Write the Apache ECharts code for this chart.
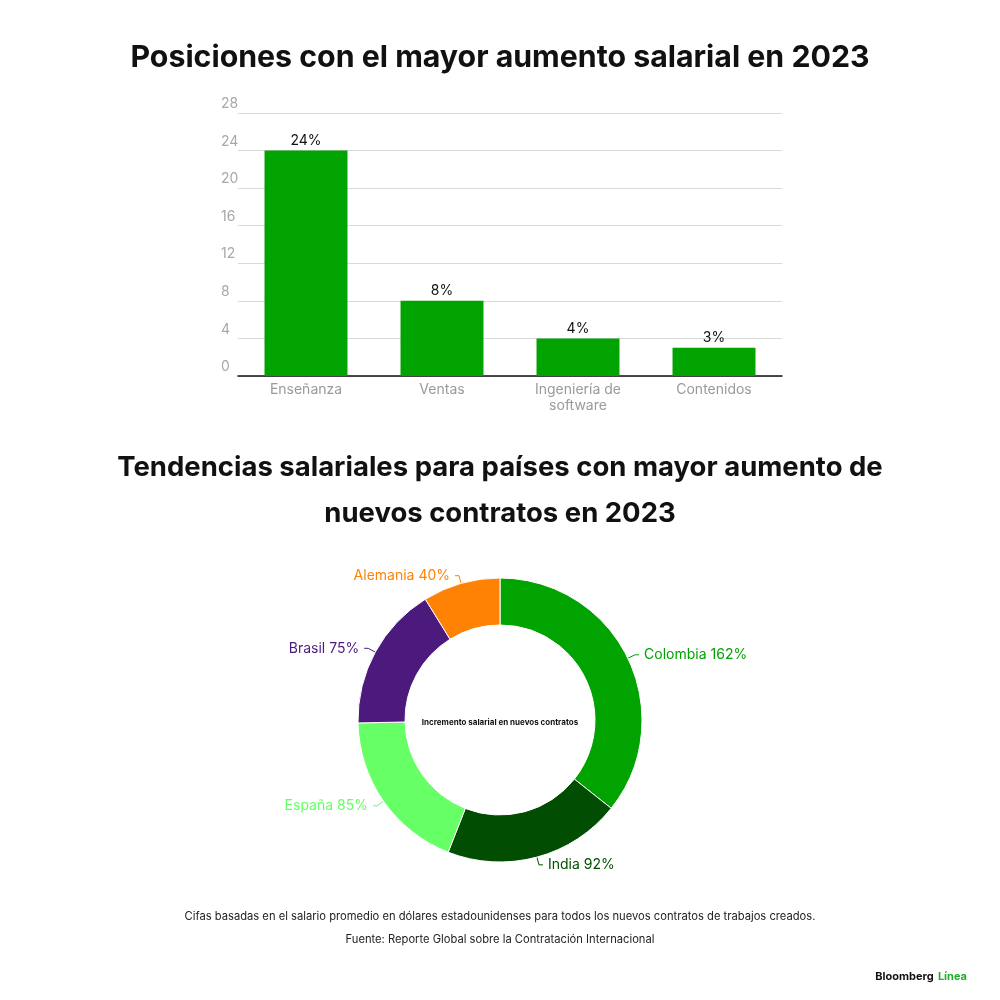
<!doctype html>
<html>
	<head>
		<meta charset="utf-8">
		<title>Aumento salarial 2023</title>
		<style>
			html, body { margin: 0; padding: 0; background: #fff; }
			#main { width: 1000px; height: 1000px; }
		</style>
	</head>
	<body>
		<div id="main"></div>
		<script src="https://cdn.jsdelivr.net/npm/echarts@6/dist/echarts.min.js"></script>
		<script>
			// datos de las posiciones
			var positions = ['Enseñanza', 'Ventas', 'Ingeniería de\nsoftware', 'Contenidos'];
			var raises = [24, 8, 4, 3];
			var yTicks = [0, 4, 8, 12, 16, 20, 24, 28];

			// datos de los paises
			var countries = ['Colombia', 'India', 'España', 'Brasil', 'Alemania'];
			var hires = [162, 92, 85, 75, 40];
			var countryColors = ['#00a300', '#014d01', '#66ff66', '#4b1a7c', '#ff8205'];

			var font = 'Inter, "Liberation Sans", sans-serif';
			var myChart = echarts.init(document.getElementById('main'));

			var pieData = [];
			for (var i = 0; i < countries.length; i++) {
				pieData.push({
					name: countries[i],
					value: hires[i],
					itemStyle: { color: countryColors[i] },
					label: { color: countryColors[i] }
				});
			}

			function heading(txt, top, size, weight, color) {
				return {
					text: txt,
					left: 'center',
					top: top,
					textStyle: { fontSize: size, fontWeight: weight, color: color, fontFamily: font }
				};
			}

			var option = {
				backgroundColor: '#fff',
				animation: false,
				textStyle: { fontFamily: font },
				title: [
					heading('Posiciones con el mayor aumento salarial en 2023', 38, 30.3, 'bold', '#111'),
					heading('Tendencias salariales para países con mayor aumento de', 449, 27.5, 'bold', '#111'),
					heading('nuevos contratos en 2023', 495, 27.5, 'bold', '#111'),
					heading('Incremento salarial en nuevos contratos', 714, 8, 'bold', '#111'),
					heading('Cifas basadas en el salario promedio en dólares estadounidenses para todos los nuevos contratos de trabajos creados.', 906, 11.2, 'normal', '#222'),
					heading('Fuente: Reporte Global sobre la Contratación Internacional', 929, 11.2, 'normal', '#222'),
					{
						text: '{a|Bloomberg} {b|Línea}',
						right: 28,
						top: 963,
						textStyle: {
							rich: {
								a: { fontSize: 11, fontWeight: 'bold', color: '#111', fontFamily: font },
								b: { fontSize: 11, fontWeight: 'bold', color: '#1fae2a', fontFamily: font }
							}
						}
					}
				],
				grid: {
					left: 238,
					right: 218,
					top: 113,
					height: 263
				},
				xAxis: {
					type: 'category',
					data: positions,
					axisLine: { lineStyle: { color: '#111', width: 1.5 } },
					axisTick: { show: false },
					axisLabel: {
						color: '#9a9a9a',
						fontSize: 14,
						lineHeight: 16,
						margin: 6,
						interval: 0,
						fontFamily: font
					}
				},
				yAxis: {
					type: 'value',
					min: 0,
					max: 28,
					interval: 4,
					axisLine: { show: false },
					axisTick: { show: false },
					splitLine: { lineStyle: { color: '#d9d9d9', width: 1 } },
					axisLabel: {
						color: '#a8a8a8',
						fontSize: 14,
						align: 'left',
						verticalAlign: 'bottom',
						padding: [0, 0, 2, 0],
						margin: 17,
						fontFamily: font,
						formatter: function (v) {
							return yTicks.indexOf(v) >= 0 ? String(v) : '';
						}
					}
				},
				series: [{
					type: 'bar',
					data: raises,
					barWidth: '61%',
					itemStyle: { color: '#00a300' },
					label: {
						show: true,
						position: 'top',
						distance: 3,
						color: '#111',
						fontSize: 14,
						fontFamily: font,
						formatter: '{c}%'
					}
				}, {
					type: 'pie',
					center: [500, 720],
					radius: [95, 142],
					startAngle: 90,
					clockwise: true,
					data: pieData,
					itemStyle: { borderColor: '#fff', borderWidth: 1 },
					label: {
						show: true,
						fontSize: 14,
						fontFamily: font,
						formatter: '{b} {c}%'
					},
					labelLine: {
						show: true,
						length: 8,
						length2: 4,
						lineStyle: { width: 1 }
					}
				}]
			};

			myChart.setOption(option);
		</script>
	</body>
</html>
